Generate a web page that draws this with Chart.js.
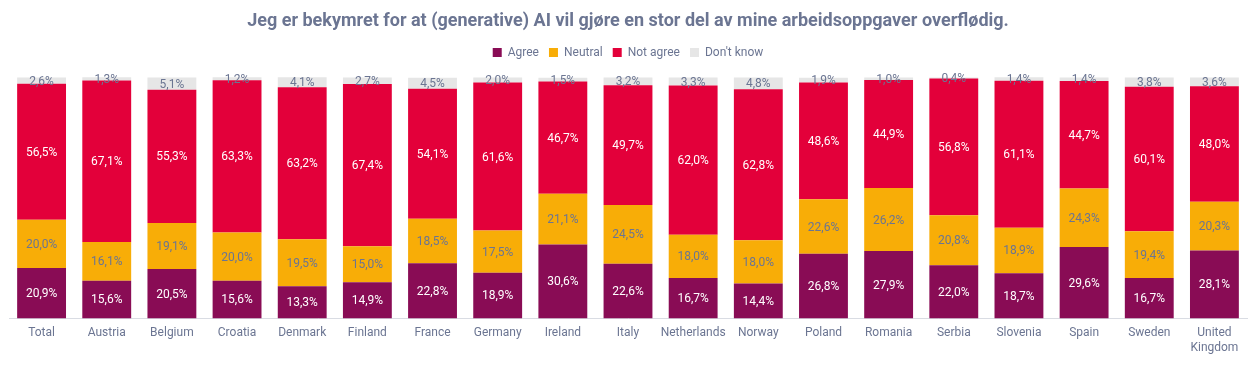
<!DOCTYPE html>
<html>
<head>
<meta charset="utf-8">
<script src="https://cdn.jsdelivr.net/npm/chart.js@4.4.0/dist/chart.umd.min.js"></script>
<style>
html,body{margin:0;padding:0;background:#fff;}
#wrap{width:1257px;height:370px;position:relative;}
</style>
</head>
<body>
<div id="wrap"><canvas id="c" width="1257" height="370"></canvas></div>
<script>
const categories = ["Total","Austria","Belgium","Croatia","Denmark","Finland","France","Germany","Ireland","Italy","Netherlands","Norway","Poland","Romania","Serbia","Slovenia","Spain","Sweden",["United","Kingdom"]];
const agree    = [20.9,15.6,20.5,15.6,13.3,14.9,22.8,18.9,30.6,22.6,16.7,14.4,26.8,27.9,22.0,18.7,29.6,16.7,28.1];
const neutral  = [20.0,16.1,19.1,20.0,19.5,15.0,18.5,17.5,21.1,24.5,18.0,18.0,22.6,26.2,20.8,18.9,24.3,19.4,20.3];
const notAgree = [56.5,67.1,55.3,63.3,63.2,67.4,54.1,61.6,46.7,49.7,62.0,62.8,48.6,44.9,56.8,61.1,44.7,60.1,48.0];
const dontKnow = [2.6,1.3,5.1,1.2,4.1,2.7,4.5,2.0,1.5,3.2,3.3,4.8,1.9,1.0,0.4,1.4,1.4,3.8,3.6];

const GREY = '#6B7592';
const labelColors = ['#ffffff', GREY, '#ffffff', GREY];

const labelPlugin = {
  id: 'segLabels',
  afterDatasetsDraw(chart) {
    const ctx = chart.ctx;
    ctx.save();
    ctx.font = '12px Roboto';
    ctx.textAlign = 'center';
    ctx.textBaseline = 'middle';
    chart.data.datasets.forEach((ds, di) => {
      const meta = chart.getDatasetMeta(di);
      meta.data.forEach((bar, i) => {
        const v = ds.data[i];
        const y = (bar.y + bar.base) / 2;
        ctx.fillStyle = labelColors[di];
        ctx.fillText(v.toFixed(1).replace('.', ',') + '%', bar.x, y + 1);
      });
    });
    ctx.restore();
  }
};

const legendGap = {
  id: 'legendGap',
  beforeInit(chart) {
    const orig = chart.legend.fit;
    chart.legend.fit = function () { orig.bind(chart.legend)(); this.height += 9; };
  }
};

const common = {barPercentage: 0.75, categoryPercentage: 1.0, clip: false};
new Chart(document.getElementById('c'), {
  type: 'bar',
  data: {
    labels: categories,
    datasets: [
      Object.assign({label: 'Agree', data: agree, backgroundColor: '#890C55'}, common),
      Object.assign({label: 'Neutral', data: neutral, backgroundColor: '#F8AD07'}, common),
      Object.assign({label: 'Not agree', data: notAgree, backgroundColor: '#E3003A'}, common),
      Object.assign({label: "Don't know", data: dontKnow, backgroundColor: '#E6E6E6'}, common)
    ]
  },
  options: {
    responsive: false,
    animation: false,
    layout: {padding: {left: 9, right: 10, top: 11, bottom: 7}},
    plugins: {
      title: {display: true, text: 'Jeg er bekymret for at (generative) AI vil gjøre en stor del av mine arbeidsoppgaver overflødig.', color: GREY, font: {family: 'Roboto', size: 18, weight: 'bold'}, padding: {top: 0, bottom: 4}},
      legend: {display: true, labels: {boxWidth: 9, boxHeight: 9, color: GREY, font: {family: 'Roboto', size: 12}, padding: 10}},
      tooltip: {enabled: false}
    },
    scales: {
      x: {stacked: true, grid: {display: false, drawTicks: false}, border: {display: true, color: '#D9DCE3'}, ticks: {color: GREY, font: {family: 'Roboto', size: 12}, padding: 8, maxRotation: 0, autoSkip: false}},
      y: {stacked: true, display: false, min: 0, max: 100}
    }
  },
  plugins: [labelPlugin, legendGap]
});
</script>
</body>
</html>
